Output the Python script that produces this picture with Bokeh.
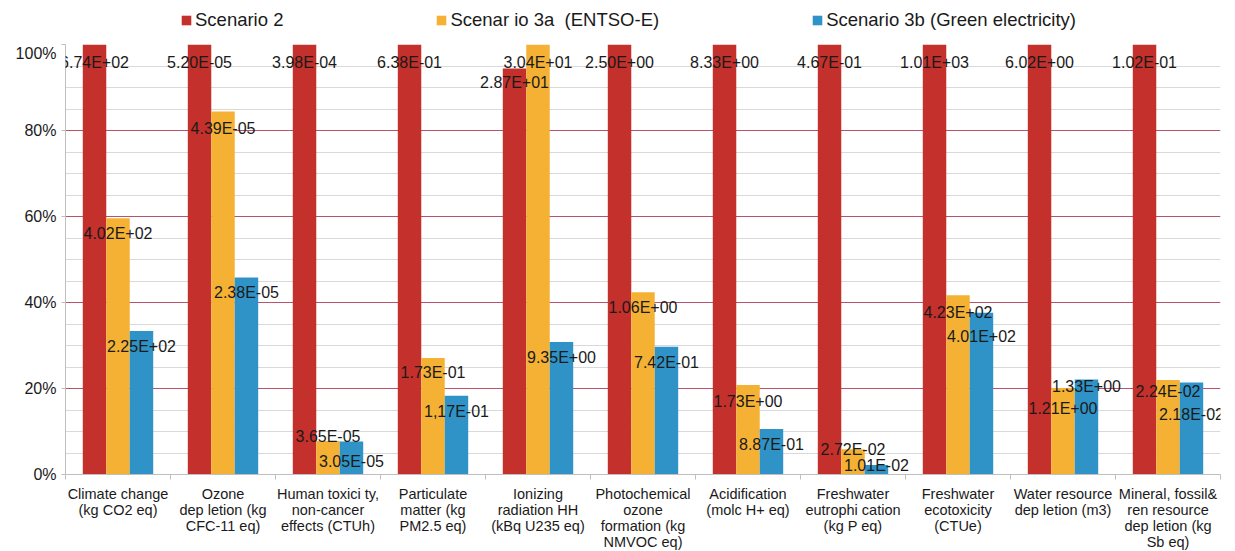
from bokeh.plotting import figure
from bokeh.layouts import column
from bokeh.models import (Range1d, FixedTicker, PrintfTickFormatter, Legend, LegendItem,
                          ColumnDataSource, LabelSet)
from bokeh.core.properties import value
from bokeh.embed import file_html
from bokeh.resources import INLINE

# ---------------- data ----------------
categories = [
    "Climate change\n(kg CO2 eq)",
    "Ozone\ndep letion (kg\nCFC-11 eq)",
    "Human toxici ty,\nnon-cancer\neffects (CTUh)",
    "Particulate\nmatter (kg\nPM2.5 eq)",
    "Ionizing\nradiation HH\n(kBq U235 eq)",
    "Photochemical\nozone\nformation (kg\nNMVOC eq)",
    "Acidification\n(molc H+ eq)",
    "Freshwater\neutrophi cation\n(kg P eq)",
    "Freshwater\necotoxicity\n(CTUe)",
    "Water resource\ndep letion (m3)",
    "Mineral, fossil&\nren resource\ndep letion (kg\nSb eq)",
]
series_names = ["Scenario 2", "Scenar io 3a  (ENTSO-E)", "Scenario 3b (Green electricity)"]

# relative values (% of the largest scenario per category)
s2_pct = [100, 100, 100, 100, 94.4, 100, 100, 100, 100, 100, 100]
s3a_pct = [59.6, 84.4, 7.8, 27.1, 100, 42.4, 20.8, 5.9, 41.7, 20.1, 22.0]
s3b_pct = [33.4, 45.8, 7.7, 18.3, 30.8, 29.7, 10.6, 2.2, 37.6, 22.1, 21.4]

# absolute values shown as data labels
s2_lbl = ["6.74E+02", "5.20E-05", "3.98E-04", "6.38E-01", "2.87E+01", "2.50E+00",
          "8.33E+00", "4.67E-01", "1.01E+03", "6.02E+00", "1.02E-01"]
s3a_lbl = ["4.02E+02", "4.39E-05", "3.65E-05", "1.73E-01", "3.04E+01", "1.06E+00",
           "1.73E+00", "2.72E-02", "4.23E+02", "1.21E+00", "2.24E-02"]
s3b_lbl = ["2.25E+02", "2.38E-05", "3.05E-05", "1,17E-01", "9.35E+00", "7.42E-01",
           "8.87E-01", "1.01E-02", "4.01E+02", "1.33E+00", "2.18E-02"]

y_ticks = [0, 20, 40, 60, 80, 100]
y_minor = [5, 10, 15, 25, 30, 35, 45, 50, 55, 65, 70, 75, 85, 90, 95]

# ---------------- styling ----------------
colors = ["#c4302b", "#f5b133", "#2f93c8"]
label_dy = [  # pixel offset of each data label below its bar top
    [18, 18, 18, 18, 14, 18, 18, 18, 18, 18, 18],
    [15, 17, -4, 15, 18, 15, 16, 0, 17, 20, 12],
    [16, 15, 20, 16, 15, 16, 16, 0, 24, 7, 32],
]
FONT = "Liberation Sans"
bar_w = 0.2235
offsets = [-bar_w, 0.0, bar_w]

n = len(categories)
centers = [i + 0.5 for i in range(n)]

# ---------------- main chart ----------------
p = figure(frame_width=1155, frame_height=430,
           x_range=Range1d(0, n), y_range=Range1d(0, 100),
           output_backend="svg", toolbar_location=None,
           min_border_left=65, min_border_right=15, min_border_top=0, min_border_bottom=77)
p.outline_line_color = None
p.background_fill_color = "white"
p.border_fill_color = "white"

p.xgrid.grid_line_color = None
p.ygrid.ticker = FixedTicker(ticks=y_ticks, minor_ticks=y_minor)
p.ygrid.grid_line_color = "#b9536a"
p.ygrid.grid_line_width = 1
p.ygrid.minor_grid_line_color = "#d9d9d9"
p.ygrid.minor_grid_line_width = 1

p.yaxis.ticker = FixedTicker(ticks=y_ticks)
p.yaxis.formatter = PrintfTickFormatter(format="%d%%")
p.yaxis.axis_line_color = "#bfbfbf"
p.yaxis.major_tick_line_color = "#bfbfbf"
p.yaxis.major_tick_out = 4
p.yaxis.major_tick_in = 0
p.yaxis.minor_tick_line_color = None
p.yaxis.major_label_text_font = FONT
p.yaxis.major_label_text_font_size = "16px"
p.yaxis.major_label_text_color = "#1a1a1a"
p.yaxis.major_label_standoff = 5

p.xaxis.ticker = FixedTicker(ticks=centers, minor_ticks=list(range(n + 1)))
p.xaxis.major_label_overrides = {c: lab for c, lab in zip(centers, categories)}
p.xaxis.axis_line_color = "#bfbfbf"
p.xaxis.major_tick_line_color = None
p.xaxis.major_tick_out = 0
p.xaxis.major_tick_in = 0
p.xaxis.minor_tick_line_color = "#bfbfbf"
p.xaxis.minor_tick_out = 5
p.xaxis.minor_tick_in = 0
p.xaxis.major_label_text_font = FONT
p.xaxis.major_label_text_font_size = "14.5px"
p.xaxis.major_label_text_line_height = 1.0
p.xaxis.major_label_text_color = "#1a1a1a"
p.xaxis.major_label_standoff = 6

series = [s2_pct, s3a_pct, s3b_pct]
labels = [s2_lbl, s3a_lbl, s3b_lbl]
for k in range(3):
    xs = [c + offsets[k] for c in centers]
    src = ColumnDataSource(dict(x=xs, top=series[k], lbl=labels[k],
                                dy=[-d for d in label_dy[k]]))
    p.vbar(x="x", top="top", bottom=0, width=bar_w, source=src,
           fill_color=colors[k], line_color=None)
    p.add_layout(LabelSet(x="x", y="top", text="lbl", y_offset="dy", source=src,
                          text_font=value(FONT), text_font_size=value("16px"),
                          text_color=value("#1a1a1a"),
                          text_align="center", text_baseline="middle"))

# ---------------- legend strip ----------------
lg = figure(width=1235, height=44, x_range=Range1d(0, 1), y_range=Range1d(0, 1),
            output_backend="svg", toolbar_location=None,
            min_border=0, min_border_left=0, min_border_right=0,
            min_border_top=0, min_border_bottom=0)
lg.axis.visible = False
lg.grid.visible = False
lg.outline_line_color = None
# zero-height proxies: only their legend swatches are visible
dummies = [lg.vbar(x=[0.5], top=[0], bottom=0, width=0.01,
                   fill_color=colors[k], line_color=None)
           for k in range(3)]
legend = Legend(items=[LegendItem(label=series_names[k], renderers=[dummies[k]]) for k in range(3)],
                orientation="horizontal", location=(115, 13),
                glyph_width=12, glyph_height=12, label_standoff=3, spacing=152,
                label_text_font=FONT, label_text_font_size="18.5px", label_text_color="#1a1a1a",
                padding=0, margin=0, border_line_alpha=0, background_fill_alpha=0,
                label_height=22)
lg.add_layout(legend, "center")

layout = column(lg, p, spacing=0)
open("out.html", "w").write(file_html(layout, INLINE))
